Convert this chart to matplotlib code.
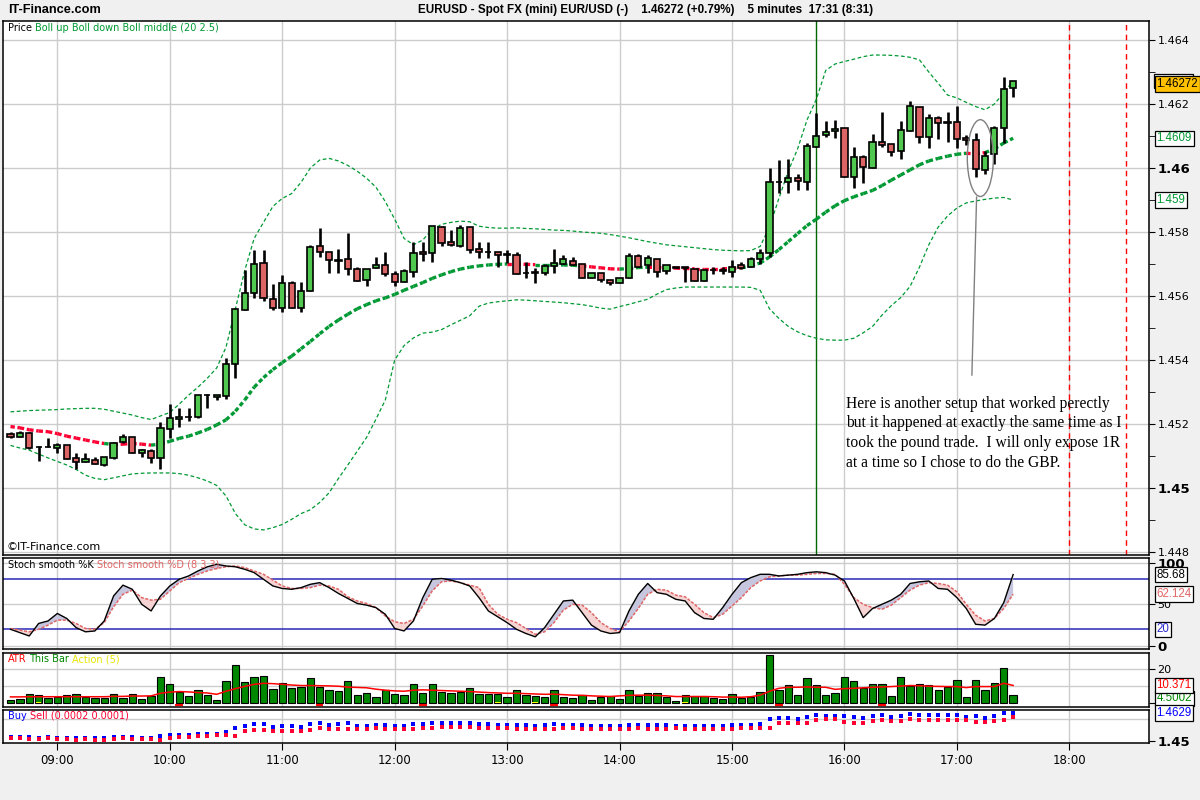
import numpy as np
import matplotlib
matplotlib.use("Agg")
import matplotlib.pyplot as plt
from matplotlib.patches import Ellipse, Rectangle

# ===============================
# DATA (5-minute bars from 08:35)
# ===============================
first_bar_minute = 8 * 60 + 35
bar_minutes = 5
hour_labels = ["09:00", "10:00", "11:00", "12:00", "13:00",
               "14:00", "15:00", "16:00", "17:00", "18:00"]

opens = [1.45168, 1.45158, 1.45171, 1.45129, 1.45129, 1.45126, 1.45133, 1.45094, 1.45080, 1.45088,
         1.45071, 1.45095, 1.45143, 1.45158, 1.45109, 1.45117, 1.45093, 1.45183, 1.45215, 1.45223,
         1.45221, 1.45291, 1.45284, 1.45288, 1.45386, 1.45556, 1.45608, 1.45702, 1.45590, 1.45561,
         1.45640, 1.45561, 1.45615, 1.45756, 1.45739, 1.45712, 1.45715, 1.45683, 1.45650, 1.45686,
         1.45696, 1.45669, 1.45643, 1.45676, 1.45736, 1.45733, 1.45817, 1.45768, 1.45757, 1.45815,
         1.45746, 1.45738, 1.45736, 1.45730, 1.45727, 1.45673, 1.45672, 1.45673, 1.45694, 1.45700,
         1.45710, 1.45700, 1.45657, 1.45671, 1.45650, 1.45640, 1.45657, 1.45725, 1.45696, 1.45715,
         1.45677, 1.45690, 1.45690, 1.45685, 1.45648, 1.45681, 1.45680, 1.45676, 1.45696, 1.45690,
         1.45715, 1.45733, 1.45957, 1.45955, 1.45968, 1.45957, 1.46067, 1.46102, 1.46115, 1.46124,
         1.45971, 1.46035, 1.45999, 1.46080, 1.46075, 1.46053, 1.46116, 1.46190, 1.46096, 1.46155,
         1.46142, 1.46143, 1.46093, 1.46086, 1.45994, 1.46043, 1.46124, 1.46249]
highs = [1.45175, 1.45178, 1.45175, 1.45130, 1.45155, 1.45140, 1.45134, 1.45108, 1.45108, 1.45096,
         1.45096, 1.45144, 1.45169, 1.45160, 1.45121, 1.45121, 1.45207, 1.45261, 1.45251, 1.45249,
         1.45291, 1.45294, 1.45291, 1.45405, 1.45564, 1.45681, 1.45744, 1.45744, 1.45638, 1.45666,
         1.45646, 1.45644, 1.45759, 1.45811, 1.45739, 1.45746, 1.45796, 1.45692, 1.45683, 1.45721,
         1.45739, 1.45679, 1.45685, 1.45770, 1.45770, 1.45819, 1.45819, 1.45806, 1.45822, 1.45815,
         1.45770, 1.45768, 1.45737, 1.45744, 1.45739, 1.45707, 1.45686, 1.45700, 1.45746, 1.45728,
         1.45721, 1.45700, 1.45671, 1.45671, 1.45650, 1.45657, 1.45733, 1.45731, 1.45728, 1.45715,
         1.45696, 1.45692, 1.45690, 1.45685, 1.45681, 1.45692, 1.45690, 1.45712, 1.45707, 1.45721,
         1.45746, 1.45999, 1.46025, 1.46027, 1.45981, 1.46077, 1.46171, 1.46147, 1.46150, 1.46124,
         1.46065, 1.46041, 1.46106, 1.46174, 1.46075, 1.46147, 1.46209, 1.46190, 1.46169, 1.46163,
         1.46176, 1.46194, 1.46103, 1.46110, 1.46053, 1.46132, 1.46283, 1.46272]
lows = [1.45155, 1.45158, 1.45123, 1.45085, 1.45128, 1.45110, 1.45090, 1.45060, 1.45080, 1.45074,
        1.45070, 1.45092, 1.45140, 1.45108, 1.45098, 1.45079, 1.45058, 1.45155, 1.45192, 1.45210,
        1.45218, 1.45249, 1.45276, 1.45277, 1.45343, 1.45556, 1.45593, 1.45585, 1.45556, 1.45551,
        1.45561, 1.45551, 1.45615, 1.45723, 1.45671, 1.45671, 1.45666, 1.45648, 1.45631, 1.45686,
        1.45663, 1.45631, 1.45643, 1.45660, 1.45710, 1.45707, 1.45756, 1.45756, 1.45754, 1.45733,
        1.45718, 1.45718, 1.45690, 1.45702, 1.45668, 1.45655, 1.45642, 1.45666, 1.45671, 1.45700,
        1.45698, 1.45657, 1.45657, 1.45645, 1.45633, 1.45640, 1.45657, 1.45692, 1.45671, 1.45658,
        1.45669, 1.45686, 1.45645, 1.45647, 1.45648, 1.45669, 1.45669, 1.45658, 1.45683, 1.45690,
        1.45700, 1.45723, 1.45923, 1.45923, 1.45931, 1.45931, 1.46067, 1.46098, 1.46095, 1.45973,
        1.45936, 1.45954, 1.45999, 1.46065, 1.46039, 1.46027, 1.46116, 1.46079, 1.46064, 1.46091,
        1.46082, 1.46061, 1.46072, 1.45973, 1.45980, 1.46013, 1.46079, 1.46223]
closes = [1.45159, 1.45171, 1.45126, 1.45128, 1.45128, 1.45133, 1.45092, 1.45080, 1.45091, 1.45074,
          1.45096, 1.45140, 1.45158, 1.45108, 1.45119, 1.45093, 1.45186, 1.45218, 1.45222, 1.45222,
          1.45291, 1.45290, 1.45291, 1.45388, 1.45558, 1.45608, 1.45699, 1.45593, 1.45561, 1.45640,
          1.45564, 1.45615, 1.45752, 1.45739, 1.45713, 1.45709, 1.45683, 1.45648, 1.45683, 1.45696,
          1.45668, 1.45643, 1.45677, 1.45733, 1.45730, 1.45819, 1.45765, 1.45758, 1.45811, 1.45744,
          1.45738, 1.45737, 1.45728, 1.45729, 1.45668, 1.45672, 1.45674, 1.45694, 1.45702, 1.45715,
          1.45698, 1.45657, 1.45671, 1.45650, 1.45641, 1.45657, 1.45725, 1.45692, 1.45718, 1.45676,
          1.45696, 1.45689, 1.45689, 1.45647, 1.45681, 1.45680, 1.45678, 1.45690, 1.45689, 1.45715,
          1.45733, 1.45955, 1.45955, 1.45968, 1.45959, 1.46069, 1.46101, 1.46111, 1.46121, 1.45973,
          1.46035, 1.46002, 1.46082, 1.46071, 1.46051, 1.46118, 1.46194, 1.46098, 1.46155, 1.46140,
          1.46143, 1.46091, 1.46088, 1.45996, 1.46039, 1.46124, 1.46246, 1.46272]

boll_up = [1.45238, 1.45240, 1.45242, 1.45243, 1.45244, 1.45245, 1.45247, 1.45248, 1.45249, 1.45249,
           1.45246, 1.45240, 1.45234, 1.45228, 1.45220, 1.45214, 1.45225, 1.45236, 1.45262, 1.45290,
           1.45315, 1.45343, 1.45375, 1.45440, 1.45560, 1.45680, 1.45780, 1.45830, 1.45880, 1.45905,
           1.45920, 1.45955, 1.46000, 1.46025, 1.46030, 1.46022, 1.46008, 1.45990, 1.45968, 1.45940,
           1.45895, 1.45840, 1.45780, 1.45760, 1.45775, 1.45808, 1.45824, 1.45830, 1.45834, 1.45832,
           1.45818, 1.45814, 1.45812, 1.45812, 1.45813, 1.45811, 1.45810, 1.45808, 1.45806, 1.45805,
           1.45803, 1.45800, 1.45798, 1.45796, 1.45792, 1.45787, 1.45782, 1.45776, 1.45770, 1.45765,
           1.45760, 1.45757, 1.45754, 1.45751, 1.45748, 1.45745, 1.45743, 1.45742, 1.45741, 1.45742,
           1.45755, 1.45815, 1.45905, 1.45990, 1.46060, 1.46150, 1.46215, 1.46305, 1.46325, 1.46333,
           1.46340, 1.46348, 1.46353, 1.46353, 1.46352, 1.46350, 1.46346, 1.46338, 1.46300, 1.46265,
           1.46228, 1.46219, 1.46205, 1.46192, 1.46182, 1.46200, 1.46235, 1.46272]
boll_mid = [1.45192, 1.45188, 1.45182, 1.45178, 1.45176, 1.45170, 1.45162, 1.45156, 1.45150, 1.45144,
            1.45139, 1.45136, 1.45137, 1.45139, 1.45137, 1.45134, 1.45137, 1.45146, 1.45155, 1.45162,
            1.45172, 1.45183, 1.45197, 1.45213, 1.45240, 1.45275, 1.45315, 1.45345, 1.45370, 1.45392,
            1.45412, 1.45435, 1.45458, 1.45482, 1.45505, 1.45525, 1.45543, 1.45560, 1.45573, 1.45585,
            1.45594, 1.45605, 1.45618, 1.45630, 1.45642, 1.45655, 1.45666, 1.45676, 1.45684, 1.45690,
            1.45694, 1.45697, 1.45699, 1.45700, 1.45700, 1.45699, 1.45698, 1.45698, 1.45698, 1.45697,
            1.45696, 1.45694, 1.45691, 1.45688, 1.45685, 1.45684, 1.45686, 1.45689, 1.45690, 1.45689,
            1.45688, 1.45687, 1.45686, 1.45685, 1.45685, 1.45685, 1.45685, 1.45686, 1.45688, 1.45694,
            1.45703, 1.45722, 1.45745, 1.45770, 1.45795, 1.45820, 1.45840, 1.45862, 1.45882, 1.45898,
            1.45910, 1.45920, 1.45930, 1.45945, 1.45962, 1.45978, 1.45994, 1.46010, 1.46022, 1.46030,
            1.46037, 1.46043, 1.46046, 1.46044, 1.46048, 1.46060, 1.46078, 1.46093]
boll_down = [1.45133, 1.45125, 1.45118, 1.45106, 1.45094, 1.45083, 1.45072, 1.45058, 1.45040, 1.45030,
             1.45026, 1.45032, 1.45038, 1.45044, 1.45046, 1.45047, 1.45047, 1.45047, 1.45045, 1.45040,
             1.45032, 1.45022, 1.45008, 1.44975, 1.44920, 1.44885, 1.44872, 1.44869, 1.44876, 1.44886,
             1.44902, 1.44920, 1.44932, 1.44955, 1.44985, 1.45030, 1.45072, 1.45115, 1.45158, 1.45215,
             1.45275, 1.45400, 1.45445, 1.45469, 1.45484, 1.45487, 1.45495, 1.45510, 1.45524, 1.45538,
             1.45568, 1.45578, 1.45582, 1.45585, 1.45588, 1.45587, 1.45585, 1.45583, 1.45581, 1.45579,
             1.45576, 1.45573, 1.45568, 1.45562, 1.45559, 1.45567, 1.45574, 1.45582, 1.45590, 1.45606,
             1.45620, 1.45625, 1.45628, 1.45628, 1.45628, 1.45628, 1.45628, 1.45628, 1.45628, 1.45627,
             1.45618, 1.45560, 1.45530, 1.45505, 1.45488, 1.45476, 1.45468, 1.45463, 1.45462, 1.45462,
             1.45468, 1.45485, 1.45505, 1.45540, 1.45570, 1.45595, 1.45630, 1.45690, 1.45760, 1.45815,
             1.45850, 1.45875, 1.45891, 1.45897, 1.45902, 1.45906, 1.45908, 1.45900]
# bar ranges where the middle band is drawn red
mid_red_spans = [(0, 10), (11.5, 15), (53, 56), (61, 65), (68.5, 78), (102, 104)]

stoch_k = [20, 16, 12, 27, 30, 39, 33, 22, 17, 18, 30, 60, 73, 68, 50, 42, 60, 72, 80, 84,
           90, 95, 98, 96, 95, 92, 88, 80, 72, 69, 68, 70, 74, 76, 70, 63, 57, 51, 49, 46,
           38, 21, 18, 30, 58, 80, 81, 79, 76, 72, 58, 42, 35, 28, 20, 15, 11, 22, 38, 54,
           55, 40, 25, 18, 15, 16, 42, 62, 75, 64, 62, 56, 54, 40, 33, 32, 46, 62, 76, 82,
           86, 86, 84, 85, 86, 88, 89, 88, 85, 78, 57, 34, 45, 50, 55, 62, 75, 77, 78, 69,
           68, 58, 45, 26, 25, 33, 52, 85.68]
stoch_d = [21, 19, 17, 20, 25, 31, 31, 27, 21, 20, 28, 47, 62, 67, 58, 55, 56, 66, 76, 81,
           86, 90, 93, 95, 96, 94, 90, 86, 79, 72, 69, 69, 70, 73, 72, 68, 59, 54, 51, 46,
           36, 29, 27, 32, 48, 66, 77, 78, 76, 73, 70, 50, 38, 32, 28, 21, 14, 17, 28, 43,
           50, 49, 40, 28, 21, 17, 30, 45, 62, 68, 67, 61, 59, 50, 40, 34, 38, 48, 58, 70,
           78, 83, 84, 85, 85, 86, 87, 87, 86, 74, 58, 50, 46, 44, 49, 58, 67, 73, 76, 75,
           73, 65, 50, 37, 30, 33, 45, 62.124]

atr_bar = [1.9, 2.5, 5.2, 4.7, 3.3, 3.5, 4.7, 5.2, 3.7, 3.3, 3.3, 5.2, 3.3, 5.2, 2.5, 4.3,
           15.1, 11.0, 6.6, 4.3, 7.6, 4.7, 1.7, 12.8, 22.1, 12.2, 15.1, 15.7, 8.1, 11.6,
           8.9, 9.5, 14.5, 9.5, 7.6, 7.0, 12.8, 4.7, 5.8, 3.7, 7.6, 5.2, 4.7, 11.0, 5.8,
           11.0, 6.4, 5.8, 6.8, 8.7, 5.2, 5.2, 5.2, 3.5, 7.6, 4.7, 4.1, 3.5, 7.6, 3.5, 2.9,
           4.7, 1.7, 3.5, 4.1, 2.3, 7.6, 4.1, 5.8, 5.8, 3.5, 1.2, 4.7, 4.1, 4.1, 2.9, 2.3,
           5.2, 2.9, 3.5, 6.4, 27.9, 7.6, 10.5, 4.7, 14.5, 10.5, 4.7, 5.8, 15.1, 12.8, 8.7,
           11.0, 11.0, 4.1, 15.1, 9.9, 11.0, 10.5, 7.6, 9.3, 13.4, 3.5, 13.4, 7.6, 11.6, 20.3, 4.7]
atr_line = [3.7, 3.7, 3.8, 3.8, 3.8, 3.8, 3.8, 3.8, 3.8, 3.8, 3.8, 4.0, 4.0, 4.2, 4.2, 4.3,
            5.8, 6.5, 6.8, 6.6, 6.2, 6.0, 5.2, 7.0, 8.5, 9.8, 11.0, 11.6, 11.4, 11.0, 10.6,
            10.3, 10.3, 10.2, 10.1, 9.9, 9.4, 9.2, 9.0, 8.2, 7.6, 7.2, 7.0, 7.6, 7.8, 7.6,
            7.4, 7.2, 7.0, 6.8, 6.5, 6.2, 6.0, 5.8, 5.8, 5.6, 5.4, 5.2, 5.3, 5.0, 4.7, 4.6,
            4.3, 4.1, 3.9, 4.3, 4.6, 4.7, 4.7, 4.5, 4.3, 3.9, 3.9, 3.9, 3.9, 3.8, 3.6, 3.6,
            3.5, 3.8, 4.7, 7.0, 8.7, 9.3, 9.3, 9.5, 9.3, 9.3, 8.1, 8.5, 8.7, 9.0, 9.3, 9.5,
            9.7, 10.0, 10.3, 10.2, 9.9, 9.8, 9.7, 9.7, 9.1, 9.7, 9.7, 9.7, 11.6, 10.371]
atr_red_marks = [18, 33, 44, 58, 82, 93]
atr_yellow_marks = [3, 52, 56, 72]

buy_dots = [1.4520, 1.4520, 1.4520, 1.4515, 1.4518, 1.4516, 1.4515, 1.4513, 1.4513, 1.4512,
            1.4512, 1.4517, 1.4519, 1.4518, 1.4514, 1.4514, 1.4523, 1.4528, 1.4527, 1.4527,
            1.4531, 1.4532, 1.4531, 1.4543, 1.4559, 1.4570, 1.4577, 1.4577, 1.4566, 1.4569,
            1.4567, 1.4566, 1.4578, 1.4583, 1.4576, 1.4577, 1.4582, 1.4571, 1.4570, 1.4574,
            1.4576, 1.4570, 1.4571, 1.4579, 1.4579, 1.4584, 1.4584, 1.4583, 1.4584, 1.4584,
            1.4579, 1.4579, 1.4576, 1.4576, 1.4576, 1.4573, 1.4571, 1.4572, 1.4577, 1.4575,
            1.4574, 1.4572, 1.4569, 1.4569, 1.4567, 1.4568, 1.4575, 1.4575, 1.4575, 1.4574,
            1.4572, 1.4571, 1.4571, 1.4571, 1.4570, 1.4571, 1.4571, 1.4573, 1.4573, 1.4574,
            1.4577, 1.4602, 1.4605, 1.4605, 1.4600, 1.4610, 1.4619, 1.4617, 1.4617, 1.4614,
            1.4609, 1.4606, 1.4613, 1.4619, 1.4610, 1.4617, 1.4623, 1.4621, 1.4619, 1.4618,
            1.4620, 1.4621, 1.4612, 1.4613, 1.4607, 1.4615, 1.4630, 1.4629]
sell_dots = [1.4514, 1.4515, 1.4511, 1.4507, 1.4512, 1.4510, 1.4508, 1.4505, 1.4507, 1.4506,
             1.4506, 1.4508, 1.4513, 1.4510, 1.4509, 1.4507, 1.4505, 1.4515, 1.4518, 1.4520,
             1.4521, 1.4524, 1.4527, 1.4527, 1.4524, 1.4546, 1.4549, 1.4549, 1.4546, 1.4545,
             1.4546, 1.4545, 1.4552, 1.4562, 1.4557, 1.4557, 1.4557, 1.4555, 1.4553, 1.4559,
             1.4556, 1.4553, 1.4554, 1.4556, 1.4561, 1.4561, 1.4566, 1.4566, 1.4565, 1.4563,
             1.4562, 1.4562, 1.4559, 1.4560, 1.4557, 1.4556, 1.4554, 1.4557, 1.4557, 1.4560,
             1.4560, 1.4556, 1.4556, 1.4555, 1.4553, 1.4554, 1.4556, 1.4559, 1.4557, 1.4556,
             1.4557, 1.4559, 1.4555, 1.4555, 1.4555, 1.4557, 1.4557, 1.4556, 1.4558, 1.4559,
             1.4560, 1.4562, 1.4582, 1.4582, 1.4583, 1.4583, 1.4597, 1.4600, 1.4600, 1.4587,
             1.4584, 1.4585, 1.4590, 1.4597, 1.4594, 1.4593, 1.4602, 1.4598, 1.4596, 1.4599,
             1.4598, 1.4596, 1.4597, 1.4587, 1.4588, 1.4591, 1.4598, 1.4612]

price_ticks = [1.448, 1.450, 1.452, 1.454, 1.456, 1.458, 1.460, 1.462, 1.464]
price_tick_labels = ["1.448", "1.45", "1.452", "1.454", "1.456", "1.458", "1.46", "1.462", "1.464"]

note_text = ("Here is another setup that worked perectly\n"
             "but it happened at exactly the same time as I\n"
             "took the pound trade.  I will only expose 1R\n"
             "at a time so I chose to do the GBP.")

# ===============================
# STYLE
# ===============================
GREEN_CANDLE = "#50c850"
RED_CANDLE = "#dc6464"
BAND_GREEN = "#009933"
MID_RED = "#ff0033"
GRID = "#cccccc"
BG = "#f0f0f0"
W, H = 1200, 800
LABEL_SIZE = 7


def fx(px):
    return px / W


def fy(py):
    return 1 - py / H


def panel(fig, top, bottom, left=3.3, right=1149):
    ax = fig.add_axes([fx(left), fy(bottom), (right - left) / W, (bottom - top) / H])
    ax.set_facecolor("white")
    for s in ax.spines.values():
        s.set_color("black")
        s.set_linewidth(1.1)
    ax.yaxis.tick_right()
    ax.tick_params(axis="y", direction="out", length=4, pad=2, labelsize=8, colors="black")
    ax.tick_params(axis="x", length=0, labelbottom=False)
    return ax


def hour_positions():
    return [((9 + k) * 60 - first_bar_minute) / bar_minutes for k in range(len(hour_labels))]


def vgrid(ax):
    for xp in hour_positions():
        ax.axvline(xp, color=GRID, lw=1, zorder=0)


def right_box(ax, yval, text, color, face="white"):
    ax.text(1.0065, yval, text, transform=ax.get_yaxis_transform(), ha="left", va="center",
            fontsize=8.3, family="Liberation Sans", color=color, zorder=10, clip_on=False,
            bbox=dict(boxstyle="square,pad=0.15", facecolor=face, edgecolor="black", lw=0.9))


def chain_labels(fig, ax, pieces, y=0.985):
    """Writes coloured legend words one after another at the panel's top-left."""
    renderer = fig.canvas.get_renderer()
    ax_w = ax.get_window_extent(renderer).width
    xpos = 0.004
    for text, color in pieces:
        t = ax.text(xpos, y, text, transform=ax.transAxes, fontsize=LABEL_SIZE, va="top",
                    ha="left", color=color, zorder=8)
        xpos += (t.get_window_extent(renderer).width + 3) / ax_w


def main():
    n = len(closes)
    x = np.arange(n)
    o = np.array(opens)
    c = np.array(closes)
    hi = np.array(highs)
    lo = np.array(lows)
    xlim = (-0.77, 121.5)

    fig = plt.figure(figsize=(12, 8), dpi=100, facecolor=BG)

    # title bar
    fig.text(fx(8), fy(10), "IT-Finance.com", fontsize=9.2, fontweight="bold",
             family="Liberation Sans", va="center", ha="left")
    fig.text(fx(418), fy(10),
             "EURUSD - Spot FX (mini) EUR/USD (-)    1.46272 (+0.79%)    5 minutes  17:31 (8:31)",
             fontsize=8.4, fontweight="bold", family="Liberation Sans", va="center", ha="left")

    # ===============================
    # PRICE PANEL
    # ===============================
    ax = panel(fig, 21, 555)
    ax.set_xlim(*xlim)
    ax.set_ylim(1.447906, 1.464594)
    vgrid(ax)
    for p in price_ticks:
        ax.axhline(p, color=GRID, lw=1, zorder=0)
    ax.set_yticks(price_ticks)
    ax.set_yticklabels(price_tick_labels)
    ax.set_yticks(np.arange(1.449, 1.4645, 0.002), minor=True)
    ax.tick_params(axis="y", which="minor", length=4, direction="out")
    for lbl in ax.get_yticklabels():
        if lbl.get_text() in ("1.46", "1.45"):
            lbl.set_fontweight("bold")
            lbl.set_fontsize(9.5)

    # vertical markers
    ax.axvline(86, color="#006600", lw=1, zorder=1)
    for t in (18 * 60, 18 * 60 + 30):
        ax.axvline((t - first_bar_minute) / bar_minutes, color="#ff0000", lw=1,
                   ls=(0, (4, 3)), zorder=1)

    # bollinger bands
    ax.plot(x, boll_up, color=BAND_GREEN, lw=0.9, ls=(0, (3, 2)), zorder=2)
    ax.plot(x, boll_down, color=BAND_GREEN, lw=0.9, ls=(0, (3, 2)), zorder=2)
    mid = np.array(boll_mid)
    for i in range(n - 1):
        xm = i + 0.5
        red = any(a <= xm <= b for a, b in mid_red_spans)
        ax.plot([i, i + 1], [mid[i], mid[i + 1]], color=MID_RED if red else BAND_GREEN,
                lw=2.4, ls=(0, (1.3, 0.8)), solid_capstyle="butt", zorder=2)

    # candles
    ax.vlines(x, lo, hi, color="black", lw=1.9, zorder=3)
    body_lo = np.minimum(o, c)
    body_h = np.maximum(np.abs(c - o), 0.000012)
    colors = [GREEN_CANDLE if cc > oo else RED_CANDLE for oo, cc in zip(o, c)]
    ax.bar(x, body_h, bottom=body_lo, width=0.66, color=colors, edgecolor="black",
           linewidth=1.2, zorder=4)

    # annotation
    ax.add_patch(Ellipse((103.5, 1.46031), 2.78, 0.0024, fill=False, edgecolor="#808080",
                         lw=1, zorder=5))
    ax.plot([103.1, 102.6], [1.45909, 1.45353], color="#808080", lw=1, zorder=5)
    ax.text(89.2, 1.45288, note_text, family="Liberation Serif", fontsize=11.2,
            va="top", ha="left", linespacing=1.3, zorder=6)

    chain_labels(fig, ax, [("Price", "black"),
                           ("Boll up Boll down Boll middle (20 2.5)", "#009933")], y=0.996)
    ax.text(0.003, 0.006, "\u00a9IT-Finance.com", transform=ax.transAxes, fontsize=8,
            va="bottom", ha="left")

    # last-value boxes (upper band box partly hidden behind the last price)
    ax.add_patch(Rectangle((1.0045, 0.8745), 0.0335, 0.026, transform=ax.transAxes,
                           facecolor="white", edgecolor="black", lw=0.9, clip_on=False,
                           zorder=9))
    right_box(ax, 1.46262, "1.46272", "black", face="#ffc000")
    right_box(ax, 1.46093, "1.4609", "#009933")
    right_box(ax, 1.45900, "1.459", "#009933")

    # ===============================
    # STOCHASTIC PANEL
    # ===============================
    ax2 = panel(fig, 558.3, 649.3)
    ax2.set_xlim(*xlim)
    ax2.set_ylim(-4, 105.2)
    vgrid(ax2)
    for lv in (0, 50, 100):
        ax2.axhline(lv, color=GRID, lw=1, zorder=0)
    for lv in (20, 80):
        ax2.axhline(lv, color="#2a2ab8", lw=1.1, zorder=1)
    k = np.array(stoch_k, dtype=float)
    d = np.array(stoch_d, dtype=float)
    ax2.fill_between(x, k, d, where=k >= d, interpolate=True, color="#c6c6de", lw=0, zorder=2)
    ax2.fill_between(x, k, d, where=k < d, interpolate=True, color="#f6d4d4", lw=0, zorder=2)
    ax2.plot(x, d, color="#e06666", lw=1.1, ls=(0, (2, 1)), zorder=3)
    ax2.plot(x, k, color="black", lw=1.0, zorder=4)
    ax2.set_yticks([0, 50, 100])
    ax2.set_yticklabels(["0", "50", "100"])
    for lbl in ax2.get_yticklabels():
        if lbl.get_text() in ("0", "100"):
            lbl.set_fontweight("bold")
            lbl.set_fontsize(9.5)
    chain_labels(fig, ax2, [("Stoch smooth %K", "black"),
                            ("Stoch smooth %D (8 3 3)", "#e06666")])
    right_box(ax2, 85.68, "85.68", "black")
    right_box(ax2, 62.124, "62.124", "#e06666")
    right_box(ax2, 20, "20", "#2a2ad0")

    # ===============================
    # ATR PANEL
    # ===============================
    ax3 = panel(fig, 652.7, 706.7)
    ax3.set_xlim(*xlim)
    ax3.set_ylim(-2.0, 29.4)
    vgrid(ax3)
    for lv in (10, 20):
        ax3.axhline(lv, color=GRID, lw=1, zorder=0)
    ax3.bar(x, atr_bar, width=0.78, color="#008800", edgecolor="black", linewidth=0.8, zorder=2)
    ax3.bar(atr_yellow_marks, [0.9] * len(atr_yellow_marks), width=0.6, color="#ffff00",
            linewidth=0, zorder=3)
    ax3.hlines([-1.2] * len(atr_red_marks), np.array(atr_red_marks) - 0.4,
               np.array(atr_red_marks) + 0.4, color="#ff0000", lw=1.5, zorder=3)
    ax3.plot(x, atr_line, color="#ff0000", lw=1.1, zorder=4)
    ax3.set_yticks([0, 20])
    ax3.set_yticklabels(["", "20"])
    chain_labels(fig, ax3, [("ATR", "#ff0000"), ("This Bar", "#008800"),
                            ("Action (5)", "#e6e600")], y=0.97)
    right_box(ax3, 2.9, "4.5002", "#008800")
    right_box(ax3, 10.371, "10.371", "#ff0000")

    # ===============================
    # BUY / SELL PANEL
    # ===============================
    ax4 = panel(fig, 710, 743.3)
    ax4.set_xlim(*xlim)
    ax4.set_ylim(1.44894, 1.464286)
    vgrid(ax4)
    ax4.axhline(1.46, color=GRID, lw=1, zorder=0)
    ax4.plot(x, buy_dots, ls="none", marker="s", ms=2.2, color="#0000ff", mew=0, zorder=3)
    ax4.plot(x, sell_dots, ls="none", marker="s", ms=2.2, color="#ff0033", mew=0, zorder=3)
    ax4.set_yticks([1.45])
    ax4.set_yticklabels(["1.45"])
    for lbl in ax4.get_yticklabels():
        lbl.set_fontweight("bold")
        lbl.set_fontsize(9.5)
    chain_labels(fig, ax4, [("Buy", "#0000ff"), ("Sell (0.0002 0.0001)", "#ff0033")], y=0.97)
    right_box(ax4, 1.4629, "1.4629", "#0000ff")

    ax4.set_xticks(hour_positions())
    ax4.set_xticklabels(hour_labels)
    ax4.tick_params(axis="x", length=5, direction="out", labelbottom=True, labelsize=8.5, pad=3)

    fig.savefig("out.png", dpi=100, facecolor=BG)


if __name__ == "__main__":
    main()
